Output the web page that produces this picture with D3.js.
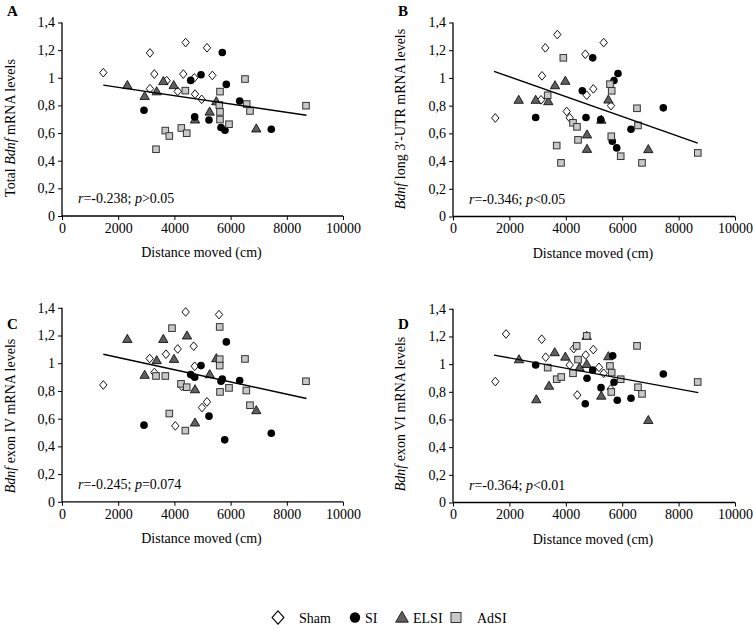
<!DOCTYPE html>
<html><head><meta charset="utf-8">
<script src="https://cdn.jsdelivr.net/npm/d3@7"></script>
<style>
body{margin:0;background:#fff;}
svg{display:block;font-family:"Liberation Serif","Times New Roman",serif;}
</style></head>
<body><svg id="c" width="753" height="628"></svg>
<script>
// ---- data ----
const groups = ["Sham","SI","ELSI","AdSI"];
const xTicks = [0,2000,4000,6000,8000,10000];
const yTicks = [0,0.2,0.4,0.6,0.8,1,1.2,1.4];

const A_sham = [[1470,1.037],[3130,1.18],[4400,1.255],[5160,1.217],[3285,1.027],[4317,1.027],[4710,1.0],[5350,1.017],[3130,0.921],[3725,0.979],[4117,0.902],[4733,0.882],[4970,0.844]];
const A_si = [[5705,1.183],[4580,0.981],[4947,1.022],[5847,0.952],[2918,0.765],[6323,0.832],[4722,0.717],[5231,0.695],[5658,0.64],[5800,0.62],[7448,0.628]];
const A_elsi = [[2325,0.947],[2942,0.868],[3370,0.902],[3605,0.976],[3975,0.947],[4733,0.698],[5255,0.755],[5490,0.83],[6915,0.633]];
const A_adsi = [[4389,0.907],[5623,0.9],[6512,0.991],[5598,0.803],[5623,0.753],[5623,0.698],[5943,0.664],[6572,0.81],[6690,0.76],[8683,0.798],[3676,0.618],[3819,0.579],[4246,0.637],[4438,0.599],[3345,0.483]];

const B_sham = [[1500,0.711],[3273,1.217],[3699,1.313],[3156,1.015],[3121,0.842],[4032,0.758],[4138,0.712],[4692,1.171],[4976,0.921],[4741,0.875],[5344,1.255],[5603,0.8]];
const B_si = [[2932,0.714],[4954,1.145],[4585,0.907],[5851,1.032],[5709,0.981],[4716,0.714],[5238,0.7],[6312,0.63],[7458,0.784],[5649,0.543],[5805,0.495]];
const B_elsi = [[2329,0.842],[2932,0.842],[3380,0.832],[3617,0.947],[3983,0.979],[5508,0.844],[5259,0.698],[4752,0.592],[4752,0.488],[6926,0.486]];
const B_adsi = [[3912,1.145],[3357,0.875],[5567,0.955],[5627,0.907],[4255,0.676],[4397,0.647],[4433,0.553],[3677,0.512],[5613,0.579],[6525,0.781],[6560,0.657],[5947,0.435],[3830,0.387],[6702,0.387],[8680,0.459]];

const C_sham = [[1470,0.843],[4400,1.37],[5587,1.351],[3120,1.034],[3286,0.933],[3701,1.065],[4117,1.103],[4687,1.123],[4722,0.978],[4259,0.834],[5160,0.721],[4982,0.68],[4033,0.548]];
const C_si = [[5848,1.154],[4947,0.983],[4580,0.918],[4722,0.899],[5705,0.885],[5658,0.87],[6323,0.875],[2918,0.553],[5231,0.618],[5790,0.447],[7448,0.495]];
const C_elsi = [[2325,1.175],[3605,1.175],[4448,1.2],[3370,1.022],[3986,1.031],[5491,1.036],[2942,0.916],[5256,0.921],[4733,0.812],[4733,0.572],[6915,0.661]];
const C_adsi = [[3915,1.253],[5612,1.262],[5612,1.029],[5612,0.983],[6512,1.031],[3345,0.908],[3676,0.908],[4235,0.851],[4438,0.827],[5943,0.822],[5623,0.793],[6559,0.803],[6690,0.697],[3819,0.637],[4389,0.514],[8683,0.87]];

const D_sham = [[1500,0.874],[1879,1.218],[3145,1.18],[3287,1.05],[4138,0.994],[4280,1.112],[4706,1.066],[4976,1.105],[5177,0.977],[5344,0.934],[4408,0.777],[5592,0.82]];
const D_si = [[2932,0.994],[4752,0.898],[4954,0.958],[5663,1.061],[5709,0.869],[5248,0.83],[4691,0.714],[5826,0.739],[6312,0.753],[7458,0.929]];
const D_elsi = [[2340,1.035],[3606,1.086],[3983,1.054],[3404,0.844],[2954,0.746],[4741,1.204],[4486,0.977],[4741,1.001],[5508,1.057],[5259,0.772],[6926,0.596]];
const D_adsi = [[4386,1.132],[4433,1.033],[4741,1.204],[3357,0.975],[3677,0.891],[3840,0.907],[4255,0.934],[5567,0.987],[5627,0.939],[5947,0.891],[5613,0.799],[6525,1.132],[6560,0.833],[6702,0.785],[8677,0.871]];

// regression: [intercept, slope per cm, xStart, xEnd]
const A_fit = [0.991, -3.01e-5, 1470, 8700];
const B_fit = [1.151, -7.16e-5, 1455, 8680];
const C_fit = [1.130, -4.42e-5, 1470, 8700];
const D_fit = [1.120, -3.75e-5, 1455, 8700];

const statsText = [
  ["r","=-0.238; ","p",">0.05"],
  ["r","=-0.346; ","p","<0.05"],
  ["r","=-0.245; ","p","=0.074"],
  ["r","=-0.364; ","p","<0.01"]
];
const yLabels = [
  [["Total ",false],["Bdnf",true],[" mRNA levels",false]],
  [["Bdnf",true],[" long 3\u2032-UTR mRNA levels",false]],
  [["Bdnf",true],[" exon IV mRNA levels",false]],
  [["Bdnf",true],[" exon VI mRNA levels",false]]
];
const panelLetters = ["A","B","C","D"];

// ---- layout ----
const panels = [
  {letter:"A", data:[A_sham,A_si,A_elsi,A_adsi], fit:A_fit, x0:62, x1:343, yb:216, yt:22.5, lx:7, ly:16, ylx:15, yly:128},
  {letter:"B", data:[B_sham,B_si,B_elsi,B_adsi], fit:B_fit, x0:453, x1:735, yb:216.5, yt:22.5, lx:398, ly:16, ylx:405, yly:119},
  {letter:"C", data:[C_sham,C_si,C_elsi,C_adsi], fit:C_fit, x0:62, x1:343, yb:501.8, yt:307.8, lx:7, ly:329, ylx:15, yly:416},
  {letter:"D", data:[D_sham,D_si,D_elsi,D_adsi], fit:D_fit, x0:453, x1:735, yb:502.5, yt:308.8, lx:398, ly:329, ylx:405, yly:414}
];

const svg = d3.select("#c");
const fmtY = v => String(v).replace(".", ",");

function marker(g, type, x, y){
  if(type===0){ // diamond
    g.append("path").attr("d",d3.symbol().type(d3.symbolDiamond2).size(48)())
      .attr("transform",`translate(${x},${y}) scale(0.85,1)`)
      .attr("fill","#fff").attr("stroke","#000").attr("stroke-width",1);
  } else if(type===1){
    g.append("circle").attr("cx",x).attr("cy",y).attr("r",3.8).attr("fill","#000");
  } else if(type===2){
    g.append("path").attr("d",d3.symbol().type(d3.symbolTriangle).size(38)())
      .attr("transform",`translate(${x},${y+0.8})`)
      .attr("fill","#5f5f5f").attr("stroke","#000").attr("stroke-width",0.8);
  } else {
    g.append("rect").attr("x",x-3.3).attr("y",y-3.3).attr("width",6.6).attr("height",6.6)
      .attr("fill","#c8c8c8").attr("stroke","#333").attr("stroke-width",1);
  }
}

panels.forEach((p,i)=>{
  const x = d3.scaleLinear().domain([0,10000]).range([p.x0,p.x1]);
  const y = d3.scaleLinear().domain([0,1.4]).range([p.yb,p.yt]);
  const g = svg.append("g");

  // axes
  const gx = g.append("g").attr("transform",`translate(0,${p.yb})`)
    .call(d3.axisBottom(x).tickValues(xTicks).tickSize(4).tickFormat(d3.format("d")));
  const gy = g.append("g").attr("transform",`translate(${p.x0},0)`)
    .call(d3.axisLeft(y).tickValues(yTicks).tickSize(4).tickFormat(fmtY));
  [gx,gy].forEach(a=>{
    a.select(".domain").attr("stroke","#000").attr("stroke-width",1.3);
    a.selectAll(".tick line").attr("stroke","#000").attr("stroke-width",1);
    a.selectAll(".tick text").attr("font-family","Liberation Serif").attr("font-size",14).attr("fill","#000");
  });
  gx.select(".domain").attr("d",`M${p.x0},0H${p.x1}`);
  gy.select(".domain").attr("d",`M0,${p.yb}V${p.yt}`);
  gx.selectAll(".tick text").attr("dy","0.85em").attr("y",5);
  gy.selectAll(".tick text").attr("x",-7);

  // points (draw order)
  const order = [0,2,1,3];
  order.forEach(k=>{
    p.data[k].forEach(d=> marker(g,k,x(d[0]),y(d[1])));
  });

  // regression line
  const f = p.fit;
  g.append("line")
    .attr("x1",x(f[2])).attr("y1",y(f[0]+f[1]*f[2]))
    .attr("x2",x(f[3])).attr("y2",y(f[0]+f[1]*f[3]))
    .attr("stroke","#000").attr("stroke-width",1.4);

  // stats text
  const st = statsText[i];
  const t = g.append("text").attr("x",p.x0+16).attr("y",p.yb-13)
    .attr("font-size",14).attr("fill","#000");
  t.append("tspan").attr("font-style","italic").text(st[0]);
  t.append("tspan").text(st[1]);
  t.append("tspan").attr("font-style","italic").text(st[2]);
  t.append("tspan").text(st[3]);

  // x label
  g.append("text").attr("x",(p.x0+p.x1)/2 - 1).attr("y",p.yb+41)
    .attr("text-anchor","middle").attr("font-size",14).attr("fill","#000")
    .text("Distance moved (cm)");

  // y label
  const yl = g.append("text").attr("transform",`translate(${p.ylx},${p.yly}) rotate(-90)`)
    .attr("text-anchor","middle").attr("font-size",14).attr("fill","#000");
  yLabels[i].forEach(s=> yl.append("tspan").attr("font-style",s[1]?"italic":null).text(s[0]));

  // panel letter
  g.append("text").attr("x",p.lx).attr("y",p.ly).attr("font-size",15).attr("font-weight","bold")
    .attr("fill","#000").text(panelLetters[i]);
});

// legend
const legendX = [278, 355, 402, 456];
const legendTextX = [299, 365, 413, 477];
const lg = svg.append("g");
groups.forEach((name,k)=>{
  const cy = 617.5;
  if(k===0){
    lg.append("path").attr("d",d3.symbol().type(d3.symbolDiamond2).size(110)())
      .attr("transform",`translate(${legendX[k]},${cy}) scale(0.9,1)`)
      .attr("fill","#fff").attr("stroke","#000").attr("stroke-width",1.2);
  } else if(k===1){
    lg.append("circle").attr("cx",legendX[k]).attr("cy",cy).attr("r",5.2).attr("fill","#000");
  } else if(k===2){
    lg.append("path").attr("d",d3.symbol().type(d3.symbolTriangle).size(70)())
      .attr("transform",`translate(${legendX[k]},${cy+1})`)
      .attr("fill","#5f5f5f").attr("stroke","#000").attr("stroke-width",0.8);
  } else {
    lg.append("rect").attr("x",legendX[k]-5).attr("y",cy-5).attr("width",10).attr("height",10)
      .attr("fill","#c8c8c8").attr("stroke","#333").attr("stroke-width",1);
  }
  lg.append("text").attr("x",legendTextX[k]).attr("y",cy+5).attr("font-size",14).attr("fill","#000").text(name);
});
</script>
</body></html>
